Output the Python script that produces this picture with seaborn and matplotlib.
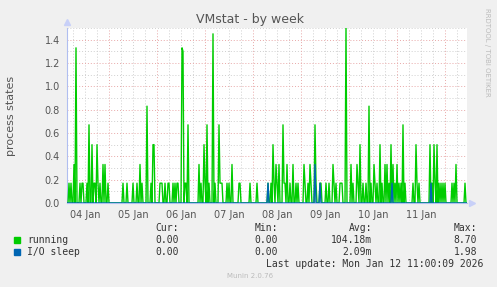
import numpy as np
import pandas as pd
import matplotlib
matplotlib.use("Agg")
import matplotlib.pyplot as plt
import seaborn as sns

# ---- data (hours since 04 Jan 00:00, 30-min samples) ----
t_start, t_end = 3.0, 203.0
running_hours = [4, 5, 6.5, 7.5, 9.5, 10.5, 11, 13, 14, 15.5, 16.5, 17, 18, 18.5, 19.5,
                 21, 22, 23.5, 31, 33, 36, 38, 39.5, 40.5, 43, 45, 46, 46.5,
                 49.5, 50, 50.5, 52, 53.5, 54, 56, 57, 58, 58.5, 60.5, 61, 62, 62.5,
                 63.5, 69, 70, 71.5, 72, 73, 74, 76, 77, 79, 79.5, 80, 80.5,
                 83, 84, 85.5, 89, 89.5, 94.5, 98, 103.5, 105, 106, 106.5, 107.5, 108,
                 109, 111, 111.5, 112, 113, 114.5, 116, 117.5, 118.5, 121.5, 122,
                 123.5, 124.5, 125, 127, 127.5, 129.5, 130, 132.5, 134, 136, 136.5,
                 137.5, 139.5, 140, 140.5, 142.5, 145, 146, 148, 148.5, 149.5, 151,
                 152.5, 154, 155, 156.5, 157, 158, 159.5, 160.5, 162, 163, 164, 165,
                 166, 167, 168, 169, 170, 171, 172, 176, 177.5, 178, 179, 184.5,
                 185.5, 186.5, 187, 188, 189, 190, 191, 192, 195.5, 196.5, 197.5, 202]
running_vals = [0.17, 0.17, 0.33, 1.33, 0.17, 0.17, 0.17, 0.17, 0.67, 0.5, 0.17, 0.17, 0.5, 0.17, 0.17,
                0.33, 0.33, 0.17, 0.17, 0.17, 0.17, 0.17, 0.33, 0.17, 0.83, 0.17, 0.5, 0.5,
                0.17, 0.17, 0.17, 0.17, 0.17, 0.17, 0.17, 0.17, 0.17, 0.17, 1.33, 1.30, 0.17, 0.17,
                0.67, 0.33, 0.17, 0.5, 0.17, 0.67, 0.17, 1.45, 0.17, 0.67, 0.17, 0.17, 0.17,
                0.17, 0.17, 0.33, 0.17, 0.17, 0.17, 0.17, 0.17, 0.17, 0.5, 0.17, 0.33, 0.17,
                0.33, 0.67, 0.17, 0.17, 0.33, 0.17, 0.33, 0.17, 0.17, 0.33, 0.17,
                0.17, 0.33, 0.17, 0.67, 0.17, 0.17, 0.17, 0.17, 0.17, 0.33, 0.17,
                0.17, 0.17, 0.17, 0.17, 1.50, 0.33, 0.17, 0.33, 0.17, 0.5, 0.17,
                0.17, 0.83, 0.17, 0.33, 0.17, 0.17, 0.5, 0.17, 0.33, 0.33, 0.17, 0.5,
                0.33, 0.17, 0.33, 0.17, 0.17, 0.67, 0.17, 0.17, 0.5, 0.17, 0.17, 0.5,
                0.17, 0.5, 0.17, 0.5, 0.17, 0.17, 0.17, 0.17, 0.17, 0.17, 0.33, 0.17]
io_hours = [103.5, 127, 129.5, 165.5, 185]
io_vals = [0.17, 0.33, 0.17, 0.17, 0.17]

day_labels = ["04 Jan", "05 Jan", "06 Jan", "07 Jan", "08 Jan", "09 Jan", "10 Jan", "11 Jan"]
y_ticks = [0.0, 0.2, 0.4, 0.6, 0.8, 1.0, 1.2, 1.4]

legend_names = ["running", "I/O sleep"]
legend_colors = ["#00CC00", "#0066B3"]
cur_vals = ["0.00", "0.00"]
min_vals = ["0.00", "0.00"]
avg_vals = ["104.18m", "2.09m"]
max_vals = ["8.70", "1.98"]

# ---- build series ----
grid = np.arange(t_start, t_end + 0.25, 0.5)
run_map = dict(zip(running_hours, running_vals))
io_map = dict(zip(io_hours, io_vals))
df = pd.DataFrame({
    "t": grid,
    "running": [run_map.get(h, 0.0) for h in grid],
    "io": [io_map.get(h, 0.0) for h in grid],
})

sns.set_style("white")
plt.rcParams["font.family"] = ["DejaVu Sans"]

W, H = 497, 287
fig = plt.figure(figsize=(W / 100, H / 100), dpi=100, facecolor="#F0F0F0")
L, R, T, B = 67, 467, 28, 203
ax = fig.add_axes([L / W, 1 - B / H, (R - L) / W, (B - T) / H])
ax.set_facecolor("white")

sns.lineplot(data=df, x="t", y="running", ax=ax, color=legend_colors[0], lw=1.0, zorder=3)
sns.lineplot(data=df, x="t", y="io", ax=ax, color=legend_colors[1], lw=1.0, zorder=4)

ax.set_xlim(t_start, t_end)
ax.set_ylim(0, 1.5)

# grid
for h in np.arange(6, t_end, 6):
    major = (h % 24 == 0)
    ax.axvline(h, color="#E8A8A8" if major else "#CFCFCF", lw=0.7,
               ls=(0, (1, 2)), zorder=1 if not major else 2)
for v in np.arange(0.1, 1.51, 0.1):
    major = abs((v / 0.2) - round(v / 0.2)) < 1e-6
    ax.axhline(v, color="#E8A8A8" if major else "#CFCFCF", lw=0.7,
               ls=(0, (1, 2)), zorder=2 if major else 1)

for s in ["top", "right"]:
    ax.spines[s].set_visible(False)
for s in ["left", "bottom"]:
    ax.spines[s].set_color("#B0BEF0")
    ax.spines[s].set_linewidth(0.8)
ax.plot([0], [1.035], marker="^", color="#C8D0F8", ms=5, transform=ax.transAxes, clip_on=False)
ax.plot([1.013], [0], marker=">", color="#C8D0F8", ms=5, transform=ax.transAxes, clip_on=False)

ax.set_yticks(y_ticks)
ax.set_yticklabels([f"{v:.1f}" for v in y_ticks])
ax.set_xticks([12 + 24 * i for i in range(len(day_labels))])
ax.set_xticklabels(day_labels)
ax.tick_params(axis="both", length=0, labelsize=7, colors="#555555", pad=5)
ax.set_xlabel("")
ax.set_ylabel("process states", fontsize=8, color="#555555")
ax.yaxis.set_label_coords((16 - L) / (R - L), 0.5)

fig.text(250 / W, 1 - 19 / H, "VMstat - by week", ha="center", va="center",
         fontsize=9, color="#555555")
fig.text(487 / W, 1 - 52 / H, "RRDTOOL / TOBI OETIKER", rotation=-90, ha="center",
         va="center", fontsize=5, color="#BBBBBB")

mono = "DejaVu Sans Mono"
fs = 7
def ftext(x, y, s, ha="left", color="#333333", size=fs, family=mono):
    fig.text(x / W, 1 - y / H, s, ha=ha, va="center", fontsize=size, color=color, family=family)

ftext(179, 228, "Cur:", ha="right")
ftext(278, 228, "Min:", ha="right")
ftext(372, 228, "Avg:", ha="right")
ftext(477, 228, "Max:", ha="right")
for i, (name, col) in enumerate(zip(legend_names, legend_colors)):
    y = 240 + 12 * i
    fig.patches.append(plt.Rectangle(((14) / W, 1 - (y + 3) / H), 6 / W, 6 / H,
                                     transform=fig.transFigure, color=col, figure=fig))
    ftext(27, y, name)
    ftext(179, y, cur_vals[i], ha="right")
    ftext(278, y, min_vals[i], ha="right")
    ftext(372, y, avg_vals[i], ha="right")
    ftext(477, y, max_vals[i], ha="right")
ftext(483, 264, "Last update: Mon Jan 12 11:00:09 2026", ha="right")
ftext(250, 276, "Munin 2.0.76", ha="center", color="#BBBBBB", size=5, family="DejaVu Sans")

fig.savefig("out.png", dpi=100, facecolor=fig.get_facecolor())
